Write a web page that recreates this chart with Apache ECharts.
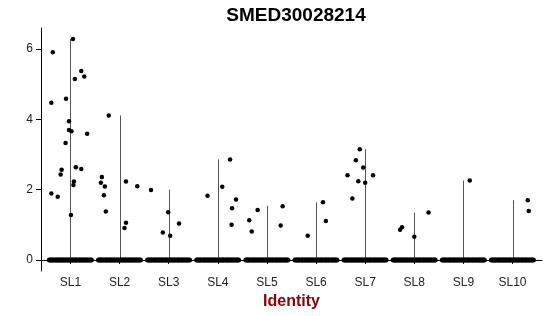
<!DOCTYPE html>
<html>
<head>
<meta charset="utf-8">
<script src="https://cdn.jsdelivr.net/npm/echarts@6/dist/echarts.min.js"></script>
<style>html,body{margin:0;padding:0;background:#fff}#c{width:550px;height:316px}</style>
</head>
<body>
<div id="c"></div>
<script>
const titleText = 'SMED30028214';
const xAxisName = 'Identity';
const categories = ['SL1','SL2','SL3','SL4','SL5','SL6','SL7','SL8','SL9','SL10'];
const yTicks = [0, 2, 4, 6];
// violin extent (max expression) per identity
const violinMax = [6.285, 4.11, 2.0, 2.86, 1.54, 1.64, 3.15, 1.35, 2.26, 1.70];
// non-zero cells: values and horizontal jitter offsets, per identity
const sl1Values = [5.91, 6.285, 4.47, 4.59, 5.38, 5.15, 5.22, 3.95, 3.70, 3.66, 3.59, 3.33, 2.64, 2.59, 2.57, 2.43, 2.23, 2.13, 1.89, 1.80, 1.28];
const sl1Jitter = [-0.36, 0.05, -0.39, -0.09, 0.22, 0.09, 0.28, -0.03, -0.03, 0.02, 0.34, -0.10, 0.11, 0.22, -0.18, -0.20, 0.07, 0.06, -0.39, -0.26, 0.01];
const sl2Values = [4.11, 2.36, 2.20, 2.09, 1.84, 1.38, 2.23, 2.10, 1.06, 0.91];
const sl2Jitter = [-0.22, -0.36, -0.38, -0.30, -0.32, -0.28, 0.13, 0.36, 0.13, 0.10];
const sl3Values = [1.99, 1.36, 0.78, 0.69, 1.04];
const sl3Jitter = [-0.36, -0.01, -0.12, 0.03, 0.21];
const sl4Values = [1.83, 2.86, 2.08, 1.72, 1.47, 1.00];
const sl4Jitter = [-0.21, 0.25, 0.09, 0.37, 0.29, 0.28];
const sl5Values = [1.13, 0.81, 1.42, 1.53, 0.98];
const sl5Jitter = [-0.36, -0.31, -0.19, 0.32, 0.28];
const sl6Values = [0.69, 1.64, 1.11];
const sl6Jitter = [-0.17, 0.14, 0.20];
const sl7Values = [3.15, 2.84, 2.63, 2.41, 2.41, 2.24, 2.20, 1.75];
const sl7Jitter = [-0.11, -0.19, -0.04, -0.36, 0.16, -0.14, 0.00, -0.26];
const sl8Values = [0.86, 0.93, 0.66, 1.35];
const sl8Jitter = [-0.29, -0.25, 0.00, 0.29];
const sl9Values = [2.26];
const sl9Jitter = [0.13];
const sl10Values = [1.70, 1.39];
const sl10Jitter = [0.31, 0.33];
const zeroJitter = [-0.43, -0.405, -0.39, -0.365, -0.345, -0.32, -0.29, -0.275, -0.25, -0.225, -0.205, -0.18, -0.16, -0.135, -0.115, -0.09, -0.065, -0.045, -0.02, 0.01, 0.03, 0.05, 0.075, 0.1, 0.115, 0.14, 0.17, 0.19, 0.21, 0.235, 0.26, 0.28, 0.31, 0.33, 0.355, 0.38, 0.4, 0.425];

const groupValues = [sl1Values, sl2Values, sl3Values, sl4Values, sl5Values, sl6Values, sl7Values, sl8Values, sl9Values, sl10Values];
const groupJitter = [sl1Jitter, sl2Jitter, sl3Jitter, sl4Jitter, sl5Jitter, sl6Jitter, sl7Jitter, sl8Jitter, sl9Jitter, sl10Jitter];

const zeroData = [];
const pointData = [];
categories.forEach((c, i) => {
  zeroJitter.forEach(j => zeroData.push([i + 1 + j, 0]));
  groupValues[i].forEach((v, k) => pointData.push([i + 1 + groupJitter[i][k], v]));
});
const violinData = violinMax.map((m, i) => [i + 1, m]);

const chart = echarts.init(document.getElementById('c'), null, {renderer: 'canvas'});
const font = 'Liberation Sans, Arial, Helvetica, sans-serif';
chart.setOption({
  animation: false,
  backgroundColor: '#ffffff',
  title: {
    text: titleText, left: 291, top: 1, textAlign: 'center',
    textStyle: {fontFamily: font, fontSize: 19, fontWeight: 'bold', color: '#000'}
  },
  grid: {left: 41, right: 8, top: 28, bottom: 45},
  xAxis: {
    type: 'value', min: 0.4, max: 10.6,
    name: xAxisName, nameLocation: 'middle', nameGap: 19,
    nameTextStyle: {fontFamily: font, fontSize: 16, fontWeight: 'bold', color: '#8B0000'},
    axisLine: {show: true, lineStyle: {color: '#000', width: 1}},
    axisTick: {show: true, length: 4, customValues: categories.map((c, i) => i + 1), lineStyle: {color: '#000'}},
    axisLabel: {customValues: categories.map((c, i) => i + 1), formatter: v => categories[Math.round(v) - 1] || '',
      fontFamily: font, fontSize: 12, color: '#222', margin: 6},
    splitLine: {show: false}
  },
  yAxis: {
    type: 'value', min: -0.314, max: 6.6,
    axisLine: {show: true, lineStyle: {color: '#000', width: 1}},
    axisTick: {show: true, length: 5, customValues: yTicks, lineStyle: {color: '#000'}},
    axisLabel: {customValues: yTicks, fontFamily: font, fontSize: 12, color: '#222', margin: 8},
    splitLine: {show: false}
  },
  series: [
    {
      type: 'custom',
      data: violinData,
      z: 1,
      renderItem: (params, api) => {
        const x = api.value(0), m = api.value(1);
        const p0 = api.coord([x, 0]);
        const p1 = api.coord([x, m]);
        const l = api.coord([x - 0.45, 0]);
        const r = api.coord([x + 0.45, 0]);
        return {type: 'group', children: [
          {type: 'line', shape: {x1: Math.round(p0[0]) + 0.5, y1: p0[1], x2: Math.round(p1[0]) + 0.5, y2: p1[1]},
            style: {stroke: '#555', lineWidth: 1}},
          {type: 'line', shape: {x1: l[0], y1: l[1], x2: r[0], y2: r[1]},
            style: {stroke: '#777', lineWidth: 1.5}}
        ]};
      }
    },
    {
      type: 'scatter', data: zeroData, symbol: 'circle', symbolSize: 5, z: 3,
      itemStyle: {color: '#000', opacity: 1}
    },
    {
      type: 'scatter', data: pointData, symbol: 'circle', symbolSize: 4.5, z: 3,
      itemStyle: {color: '#000', opacity: 1}
    }
  ]
});
</script>
</body>
</html>
